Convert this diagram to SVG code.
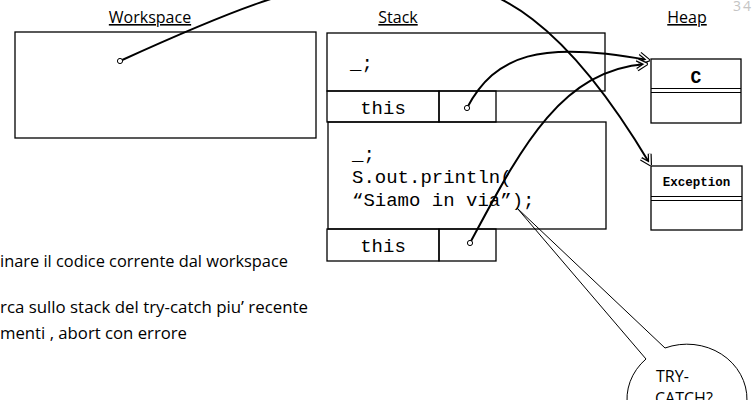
<svg xmlns="http://www.w3.org/2000/svg" width="754" height="400" viewBox="0 0 754 400">
  <style>
    .box { fill: none; stroke: #000; stroke-width: 1.3; }
    .hdr { font-family: "Open Sans", "Liberation Sans", sans-serif; font-size: 16px; fill: #000; text-decoration: underline; text-anchor: middle; }
    .body { font-family: "Open Sans", "Liberation Sans", sans-serif; font-size: 16px; fill: #000; }
    .mono { font-family: "Liberation Mono", "Courier New", monospace; font-size: 19px; fill: #000; }
    .monob { font-family: "Liberation Mono", "Courier New", monospace; font-weight: bold; fill: #000; text-anchor: middle; }
    .conn { fill: none; stroke: #000; stroke-width: 2; }
    .dot { fill: #fff; stroke: #000; stroke-width: 1; }
  </style>
  <defs>
    <marker id="arr" viewBox="0 0 14 14" refX="12" refY="7" markerWidth="14" markerHeight="14" markerUnits="userSpaceOnUse" orient="auto">
      <path d="M3,2 L12,7 L3,12" fill="none" stroke="#000" stroke-width="4" stroke-linejoin="miter"/>
      <path d="M3,2 L12,7 L3,12" fill="none" stroke="#fff" stroke-width="1.6" stroke-linejoin="miter"/>
    </marker>
  </defs>
  <rect width="754" height="400" fill="#fff"/>

  <text x="733" y="11" font-family="Open Sans, sans-serif" font-size="14" fill="#c4c4c4" letter-spacing="2">34</text>

  <!-- Callout -->
  <g id="callout">
    <path d="M665,348 A60,55 0 1 1 646,359 L517,208 Z" fill="#fff" stroke="#000" stroke-width="1"/>
    <text class="body" x="656" y="382" font-size="17">TRY-</text>
    <text class="body" x="655" y="404" font-size="17">CATCH?</text>
  </g>

  <!-- Headers -->
  <text class="hdr" x="150" y="23">Workspace</text>
  <text class="hdr" x="398" y="23">Stack</text>
  <text class="hdr" x="687" y="23">Heap</text>

  <!-- Workspace -->
  <g id="workspace">
    <rect class="box" x="15" y="32" width="301" height="106"/>
  </g>

  <!-- Stack frame 1 -->
  <g id="frame1">
    <rect class="box" x="327" y="33" width="278" height="58"/>
    <text class="mono" x="350" y="69">_;</text>
  </g>
  <g id="this1">
    <rect class="box" x="327" y="91" width="112" height="31"/>
    <rect class="box" x="439" y="91" width="57" height="31"/>
    <text class="mono" x="383" y="114" text-anchor="middle">this</text>
  </g>

  <!-- Stack frame 2 -->
  <g id="frame2">
    <rect class="box" x="328" y="122" width="278" height="107"/>
    <text class="mono" x="352" y="160">_;</text>
    <text class="mono" x="352" y="183">S.out.println(</text>
    <text class="mono" x="352" y="206">“Siamo in via”);</text>
  </g>
  <g id="this2">
    <rect class="box" x="327" y="229" width="112" height="32"/>
    <rect class="box" x="439" y="229" width="57" height="32"/>
    <text class="mono" x="383" y="252" text-anchor="middle">this</text>
  </g>

  <!-- Heap objects -->
  <g id="objC">
    <rect class="box" x="651" y="59" width="90" height="64"/>
    <line x1="651" y1="88.5" x2="741" y2="88.5" stroke="#000" stroke-width="1.2"/>
    <line x1="651" y1="92.5" x2="741" y2="92.5" stroke="#000" stroke-width="1.2"/>
    <text class="monob" x="696" y="83" font-size="18">C</text>
  </g>
  <g id="objException">
    <rect class="box" x="651" y="166" width="91" height="64"/>
    <line x1="651" y1="196.5" x2="742" y2="196.5" stroke="#000" stroke-width="1.2"/>
    <line x1="651" y1="200.5" x2="742" y2="200.5" stroke="#000" stroke-width="1.2"/>
    <text class="monob" x="696.5" y="186" font-size="12.5">Exception</text>
  </g>

  <!-- Left text -->
  <g id="notes">
    <text class="body" x="0" y="267" textLength="288" lengthAdjust="spacingAndGlyphs">inare il codice corrente dal workspace</text>
    <text class="body" x="0" y="313" textLength="308" lengthAdjust="spacingAndGlyphs">rca sullo stack del try-catch piu’ recente</text>
    <text class="body" x="0" y="339" textLength="187" lengthAdjust="spacingAndGlyphs">menti , abort con errore</text>
  </g>

  <!-- Connectors -->
  <g id="connectors">
    <path class="conn" d="M120,61 C210,20 310,-25 400,-25 C500,-25 570,30 650,164" marker-end="url(#arr)"/>
    <path class="conn" d="M467,108 C495,55 540,40 648,60" marker-end="url(#arr)"/>
    <path class="conn" d="M470,243 C520,150 560,70 646,64" marker-end="url(#arr)"/>
    <circle class="dot" cx="120" cy="61" r="2.6"/>
    <circle class="dot" cx="467" cy="108" r="2.6"/>
    <circle class="dot" cx="470" cy="243" r="2.6"/>
  </g>
</svg>
